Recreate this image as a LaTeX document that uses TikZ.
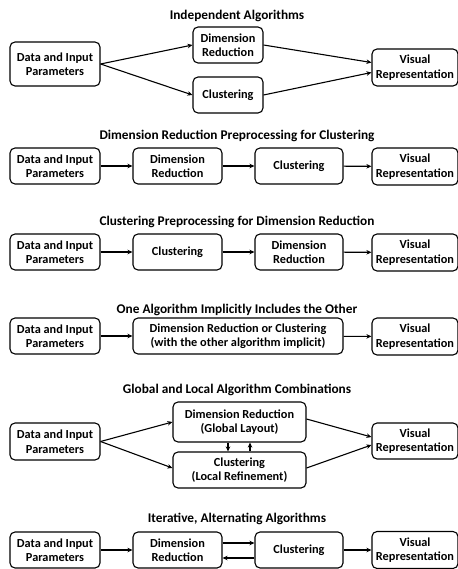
\documentclass[tikz,border=0pt]{standalone}
\usepackage{fontspec}
\setmainfont{Carlito}
\usetikzlibrary{arrows.meta}
\begin{document}
\begin{tikzpicture}[x=1pt,y=-1pt,
  box/.style={draw,line width=1.1pt,rounded corners=5pt,inner sep=0pt,align=center,
    font=\bfseries\fontsize{12.3}{14.5}\selectfont},
  ttl/.style={font=\bfseries\fontsize{13.3}{15}\selectfont,inner sep=0pt},
  arr/.style={line width=1.1pt,-{Stealth[length=5pt,width=4.5pt,inset=1.5pt]}}]
\useasboundingbox (0,0) rectangle (457,569);
% section 1
\node[ttl] (t1) at (237,16) {Independent Algorithms};
\node[box,minimum width=90pt,minimum height=44pt] (d1) at (55,64) {Data and Input\\Parameters};
\node[box,minimum width=70pt,minimum height=36pt] (r1) at (228,45) {Dimension\\Reduction};
\node[box,minimum width=70pt,minimum height=36pt] (c1) at (228,95) {Clustering};
\node[box,minimum width=86pt,minimum height=37pt] (v1) at (415,67.5) {Visual\\Representation};
\draw[arr] (d1.east) -- (r1.west);
\draw[arr] (d1.east) -- (c1.west);
\draw[arr] (r1.east) -- ([yshift=5]v1.west);
\draw[arr] (c1.east) -- ([yshift=-5]v1.west);
% section 2
\node[ttl] (t2) at (237,136) {Dimension Reduction Preprocessing for Clustering};
\node[box,minimum width=90pt,minimum height=36pt] (d2) at (55,166) {Data and Input\\Parameters};
\node[box,minimum width=89pt,minimum height=36pt] (r2) at (177.5,166) {Dimension\\Reduction};
\node[box,minimum width=88pt,minimum height=36pt] (c2) at (299,166) {Clustering};
\node[box,minimum width=86pt,minimum height=37pt] (v2) at (415,166.5) {Visual\\Representation};
\draw[arr] (d2) -- (r2);
\draw[arr] (r2) -- (c2);
\draw[arr] (c2) -- (v2);
% section 3
\node[ttl] (t3) at (237,222) {Clustering Preprocessing for Dimension Reduction};
\node[box,minimum width=90pt,minimum height=36pt] (d3) at (55,252) {Data and Input\\Parameters};
\node[box,minimum width=89pt,minimum height=36pt] (c3) at (177.5,252) {Clustering};
\node[box,minimum width=88pt,minimum height=36pt] (r3) at (299,252) {Dimension\\Reduction};
\node[box,minimum width=86pt,minimum height=37pt] (v3) at (415,252.5) {Visual\\Representation};
\draw[arr] (d3) -- (c3);
\draw[arr] (c3) -- (r3);
\draw[arr] (r3) -- (v3);
% section 4
\node[ttl] (t4) at (237,310) {One Algorithm Implicitly Includes the Other};
\node[box,minimum width=90pt,minimum height=36pt] (d4) at (55,336) {Data and Input\\Parameters};
\node[box,minimum width=210pt,minimum height=36pt] (m4) at (238,336) {Dimension Reduction or Clustering\\(with the other algorithm implicit)};
\node[box,minimum width=86pt,minimum height=37pt] (v4) at (415,336.5) {Visual\\Representation};
\draw[arr] (d4) -- (m4);
\draw[arr] (m4) -- (v4);
% section 5
\node[ttl] (t5) at (237,390) {Global and Local Algorithm Combinations};
\node[box,minimum width=90pt,minimum height=37pt] (d5) at (55,441.5) {Data and Input\\Parameters};
\node[box,minimum width=133pt,minimum height=40pt] (r5) at (239.5,422) {Dimension Reduction\\(Global Layout)};
\node[box,minimum width=133pt,minimum height=36pt] (c5) at (239.5,470) {Clustering\\(Local Refinement)};
\node[box,minimum width=86pt,minimum height=36pt] (v5) at (415,441) {Visual\\Representation};
\draw[arr] (d5.east) -- (r5.west);
\draw[arr] (d5.east) -- ([yshift=2]c5.west);
\draw[arr] ([yshift=3]r5.east) -- ([yshift=4]v5.west);
\draw[arr] ([yshift=2]c5.east) -- ([yshift=-4]v5.west);
\draw[arr] (r5.south -| 228,0) -- (c5.north -| 228,0);
\draw[arr] (c5.north -| 250,0) -- (r5.south -| 250,0);
% section 6
\node[ttl] (t6) at (237,519) {Iterative, Alternating Algorithms};
\node[box,minimum width=90pt,minimum height=36pt] (d6) at (55,550) {Data and Input\\Parameters};
\node[box,minimum width=89pt,minimum height=36pt] (r6) at (177.5,550) {Dimension\\Reduction};
\node[box,minimum width=88pt,minimum height=36pt] (c6) at (299,550) {Clustering};
\node[box,minimum width=86pt,minimum height=37pt] (v6) at (415,550) {Visual\\Representation};
\draw[arr] (d6) -- (r6);
\draw[arr] ([yshift=7]r6.east) -- ([yshift=7]c6.west);
\draw[arr] ([yshift=-8]c6.west) -- ([yshift=-8]r6.east);
\draw[arr] (c6) -- (v6);
\end{tikzpicture}
\end{document}
